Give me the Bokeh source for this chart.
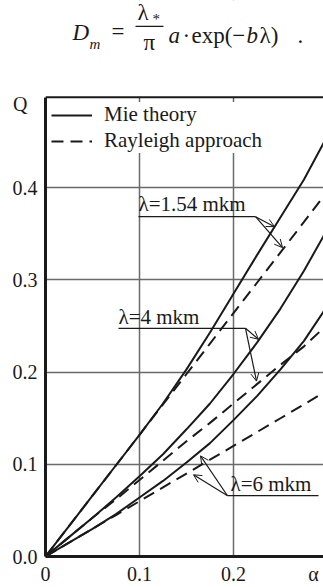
from bokeh.plotting import figure
from bokeh.models import (Range1d, FixedTicker, Label, Arrow, OpenHead, Span, BoxAnnotation,
                          Legend, LegendItem, CustomJSTickFormatter)
from bokeh.embed import file_html
from bokeh.resources import INLINE

# ---------------- data ----------------
alpha = [0, 0.025, 0.05, 0.075, 0.1, 0.125, 0.15, 0.175, 0.2, 0.225, 0.25, 0.275, 0.296]
mie_154 = [0, 0.033, 0.066, 0.099, 0.132, 0.166, 0.203, 0.243, 0.285, 0.327, 0.368, 0.409, 0.449]
ray_154 = [0, 0.033, 0.066, 0.099, 0.132, 0.165, 0.198, 0.231, 0.264, 0.297, 0.330, 0.363, 0.391]
mie_4 = [0, 0.021, 0.042, 0.064, 0.087, 0.111, 0.138, 0.166, 0.198, 0.232, 0.269, 0.310, 0.348]
ray_4 = [0, 0.021, 0.042, 0.062, 0.083, 0.104, 0.125, 0.145, 0.166, 0.187, 0.208, 0.228, 0.248]
mie_6 = [0, 0.015, 0.030, 0.046, 0.064, 0.082, 0.102, 0.123, 0.148, 0.174, 0.203, 0.234, 0.266]
ray_6 = [0, 0.015, 0.030, 0.045, 0.060, 0.075, 0.090, 0.105, 0.120, 0.135, 0.150, 0.165, 0.178]

x_ticks = [0, 0.1, 0.2]
y_ticks = [0, 0.1, 0.2, 0.3, 0.4]
x_grid = [0.1, 0.2]
y_grid = [0.1, 0.2, 0.3, 0.4]

legend_labels = ["Mie theory", "Rayleigh approach"]
curve_labels = ["λ=1.54 mkm", "λ=4 mkm", "λ=6 mkm"]
x_name, y_name = "α", "Q"

# ---------------- layout (page pixels; Bokeh page has no body margin) ----------------
FONT = "Liberation Serif"
INK = "#1a1a1a"
W, H = 323, 587
FL, FB = 45, 29           # frame left edge, bottom border
FRAME_W, FRAME_H = W - FL, H - FB
PX_X, PX_Y = 940.0, 925.0  # pixels per data unit
X_MAX = FRAME_W / PX_X
Y_TOP = FRAME_H / PX_Y
PLOT_TOP_PX = 97           # top border of the plotting box


def ax(px):
    return (px - FL) / PX_X


def ay(py):
    return (FRAME_H - py) / PX_Y


Y_BOX_TOP = ay(PLOT_TOP_PX)

p = figure(width=W, height=H, x_range=Range1d(0, X_MAX), y_range=Range1d(0, Y_TOP),
           output_backend="svg", toolbar_location=None,
           min_border_left=FL, min_border_right=0, min_border_top=0, min_border_bottom=FB)
p.outline_line_color = None
p.background_fill_color = "white"
p.border_fill_color = "white"

xa = p.xaxis[0]
ya = p.yaxis[0]
x_name_tick = ax(313)
y_name_tick = ay(104)
xa.ticker = FixedTicker(ticks=x_ticks + [x_name_tick])
xa.formatter = CustomJSTickFormatter(
    args=dict(name=x_name, cut=0.25),
    code="if (tick > cut) return name; return tick == 0 ? '0' : tick.toFixed(1);")
ya.ticker = FixedTicker(ticks=y_ticks + [y_name_tick])
ya.formatter = CustomJSTickFormatter(
    args=dict(name=y_name + "\u00a0\u00a0", cut=0.45),
    code="if (tick > cut) return name; return tick.toFixed(1);")
ya.bounds = (0, Y_BOX_TOP)
for a in (xa, ya):
    a.axis_line_width = 3
    a.axis_line_color = INK
    a.major_tick_out = 0
    a.major_tick_in = 0
    a.minor_tick_out = 0
    a.minor_tick_in = 0
    a.major_tick_line_color = None
    a.minor_tick_line_color = None
    a.major_label_text_font = FONT
    a.major_label_text_font_size = "20px"
    a.major_label_text_color = INK
xa.major_label_standoff = 6
ya.major_label_standoff = 8

p.xgrid[0].ticker = FixedTicker(ticks=x_grid)
p.ygrid[0].ticker = FixedTicker(ticks=y_grid)
for g in (p.xgrid[0], p.ygrid[0]):
    g.grid_line_color = "#6a6a6a"
    g.grid_line_width = 1.5

# white area above the plotting box (formula area) and the box's top border
p.add_layout(BoxAnnotation(bottom=Y_BOX_TOP, fill_color="white", fill_alpha=1.0,
                           line_color=None))
p.add_layout(Span(location=Y_BOX_TOP, dimension="width", line_color=INK, line_width=2))

# ---------------- curves ----------------
DASH = "12 7"
r_m154 = p.line(alpha, mie_154, line_color=INK, line_width=2)
r_r154 = p.line(alpha, ray_154, line_color=INK, line_width=2, line_dash=DASH)
p.line(alpha, mie_4, line_color=INK, line_width=2)
p.line(alpha, ray_4, line_color=INK, line_width=2, line_dash=DASH)
p.line(alpha, mie_6, line_color=INK, line_width=2)
p.line(alpha, ray_6, line_color=INK, line_width=2, line_dash=DASH)

legend = Legend(items=[LegendItem(label=legend_labels[0], renderers=[r_m154]),
                       LegendItem(label=legend_labels[1], renderers=[r_r154])],
                location=(6, FRAME_H - 155), margin=0, padding=0, spacing=1,
                glyph_width=41, glyph_height=24, label_height=24, label_standoff=12,
                label_text_font=FONT, label_text_font_size="21px", label_text_color=INK,
                background_fill_color="white", background_fill_alpha=1.0,
                border_line_color=None)
p.add_layout(legend)

# ---------------- annotations ----------------
SHIFT = 0.40  # em: compensate for Label vertical anchoring


def lab(text, px, py_base, size=21, style="normal"):
    p.add_layout(Label(x=ax(px), y=ay(py_base - SHIFT * size), text=text, text_font=FONT,
                       text_font_size=f"{size}px", text_font_style=style, text_color=INK,
                       text_baseline="alphabetic", text_align="left"))


def seg(x0, y0, x1, y1, head=False, width=1.2):
    p.add_layout(Arrow(x_start=ax(x0), y_start=ay(y0), x_end=ax(x1), y_end=ay(y1),
                       line_color=INK, line_width=width,
                       end=OpenHead(size=8, line_width=1, line_color=INK) if head else None))


# λ=1.54 mkm
lab(curve_labels[0], 138, 213)
seg(138, 217, 255, 217)
seg(255, 217, 274, 227, head=True)
seg(255, 217, 282, 248, head=True)
# λ=4 mkm
lab(curve_labels[1], 118, 326)
seg(118, 329, 245, 329)
seg(245, 329, 258, 340, head=True)
seg(245, 329, 256, 382, head=True)
# λ=6 mkm
lab(curve_labels[2], 230, 494)
seg(227, 497, 318, 497)
seg(227, 497, 200, 457, head=True)
seg(227, 497, 193, 476, head=True)

# formula above the chart
lab("D", 72, 41, size=23, style="italic")
lab("m", 89, 50, size=15, style="italic")
lab("=", 111, 40, size=23)
lab("λ", 137, 21, size=23)
lab("*", 152, 25, size=15)
seg(135, 26, 163, 26, width=1.3)
lab("π", 143, 51, size=23)
lab("a", 168, 44, size=23, style="italic")
lab("·", 182, 44, size=23)
lab("exp(−", 191, 44, size=23)
lab("b", 246, 44, size=23, style="italic")
lab("λ)", 259, 44, size=23)
lab(".", 297, 44, size=23)

open("out.html", "w").write(file_html(p, INLINE))
